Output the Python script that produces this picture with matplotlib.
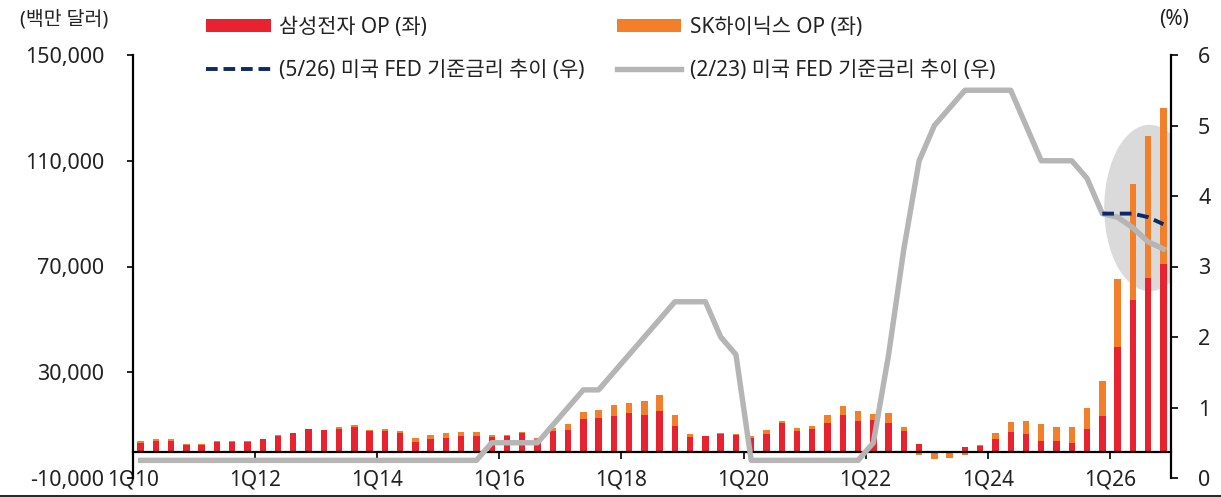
import matplotlib
matplotlib.use("Agg")
import matplotlib.pyplot as plt
import numpy as np
from matplotlib.patches import Ellipse
from matplotlib.lines import Line2D
from matplotlib.patches import Patch

plt.rcParams['font.family'] = ['Noto Sans', 'Noto Sans CJK KR', 'DejaVu Sans']

# ---- data ----
years = list(range(2010, 2027))
quarters = [f"{q}Q{str(y)[2:]}" for y in years for q in range(1, 5)]

samsung_op = [3400, 4000, 4000, 2600, 2600, 3500, 3800, 3650, 4650, 5900, 6900, 8400,
              8050, 8400, 9400, 7900, 7800, 6900, 3800, 4650, 5300, 6000, 6000, 5400,
              5700, 6900, 4400, 7800, 8200, 12300, 12700, 13600, 14600, 13700, 15500, 9600,
              5500, 5700, 6700, 6200, 5300, 6500, 10700, 7900, 8400, 10900, 13700, 11400,
              11900, 10900, 7900, 2900, 400, 400, 1600, 2200, 4800, 7500, 6500, 4150,
              4150, 3100, 8600, 13600, 39400, 57500, 65800, 70800]
hynix_op = [500, 650, 650, 400, 400, 400, 100, 250, 150, 300, 100, 300,
            250, 800, 700, 400, 750, 900, 1200, 1550, 1600, 1300, 1300, 800,
            400, 400, 600, 1000, 2200, 2500, 3100, 4000, 3900, 5300, 6000, 4100,
            1000, 200, 200, 300, 600, 1800, 700, 900, 1300, 2800, 3500, 3900,
            2200, 3600, 1300, -1400, -2800, -2300, -1400, 200, 2100, 3800, 5200, 6250,
            5250, 6300, 8000, 13200, 26000, 43800, 53400, 59000]
fed_feb23 = [0.25] * 23 + [0.5, 0.5, 0.5, 0.5, 0.75, 1.0, 1.25, 1.25, 1.5, 1.75, 2.0, 2.25, 2.5,
             2.5, 2.5, 2.0, 1.75] + [0.25] * 8 + \
            [0.5, 1.75, 3.25, 4.5, 5.0, 5.25, 5.5, 5.5, 5.5, 5.5, 5.0, 4.5, 4.5, 4.5, 4.25, 3.75,
             3.7, 3.55, 3.35, 3.25]
fed_may26_quarters = ["4Q25", "1Q26", "2Q26", "3Q26", "4Q26"]
fed_may26 = [3.75, 3.75, 3.75, 3.7, 3.6]

xtick_labels = [f"1Q{str(y)[2:]}" for y in range(2010, 2027, 2)]
left_ticks = [-10000, 30000, 70000, 110000, 150000]
right_ticks = [0, 1, 2, 3, 4, 5, 6]

RED = '#E8222E'
ORANGE = '#F47F2B'
GRAY = '#B5B5B5'
NAVY = '#0C2A66'
TXT = '#222222'

W, H = 1221, 497
fig = plt.figure(figsize=(W / 100, H / 100), dpi=100)
ax = fig.add_axes([133 / W, 1 - 478 / H, (1171 - 133) / W, (478 - 55) / H])
ax2 = ax.twinx()

n = len(quarters)
x = np.arange(n) + 0.5
s = np.array(samsung_op, dtype=float)
h = np.array(hynix_op, dtype=float)
bottom_h = np.where(h >= 0, s, 0)

ax.set_xlim(0, n)
ax.set_ylim(-10000, 150000)
ax2.set_ylim(0, 6)

# highlight ellipse
ell = Ellipse((66.6, 3.83), 5.95, 2.36, transform=ax2.transData,
              facecolor='#DADADA', edgecolor='none', zorder=0)
ax.add_patch(ell)

ax.bar(x, s, width=0.42, color=RED, zorder=2)
ax.bar(x, h, width=0.42, bottom=bottom_h, color=ORANGE, zorder=2)

xi = {q: i for i, q in enumerate(quarters)}
xm = np.array([xi[q] for q in fed_may26_quarters]) + 0.5
ax2.plot(x, fed_feb23, color=GRAY, lw=3.9, solid_joinstyle='round', zorder=3)
ax2.plot(xm, fed_may26, color=NAVY, lw=2.8, dashes=(3.0, 1.5), zorder=4)

# spines
for sp in ['top', 'right']:
    ax.spines[sp].set_visible(False)
ax.spines['bottom'].set_position(('data', 0))
for sp in ['top', 'left', 'bottom']:
    ax2.spines[sp].set_visible(False)
for a, sp in [(ax, 'left'), (ax, 'bottom'), (ax2, 'right')]:
    a.spines[sp].set_linewidth(1.6)
    a.spines[sp].set_color('black')

ax.set_xticks(np.arange(0, n + 1, 8))
ax.set_xticklabels(xtick_labels)
ax.tick_params(axis='x', direction='out', length=5, width=1.4, pad=8, labelsize=15, colors=TXT)
ax.set_yticks(left_ticks)
ax.set_yticklabels([f"{v:,}" for v in left_ticks])
ax.tick_params(axis='y', direction='out', length=4.5, width=1.4, pad=16, labelsize=15.5, colors=TXT)
ax2.set_yticks(right_ticks)
ax2.set_yticklabels([str(v) for v in right_ticks])
ax2.tick_params(axis='y', direction='out', length=5, width=1.4, pad=14.5, labelsize=15.5, colors=TXT)
for a in (ax, ax2):
    for lab in a.get_xticklabels() + a.get_yticklabels():
        lab.set_color(TXT)

fig.text(64 / W, 1 - 19 / H, "(백만 달러)", ha='center', va='center', fontsize=14, color=TXT)
fig.text(1174 / W, 1 - 20 / H, "(%)", ha='center', va='center', fontsize=15, color=TXT)

handles = [Patch(facecolor=RED, edgecolor='none'),
           Line2D([], [], color=NAVY, lw=2.8, dashes=(3.0, 1.5)),
           Patch(facecolor=ORANGE, edgecolor='none'),
           Line2D([], [], color=GRAY, lw=3.9)]
labels = ["삼성전자 OP (좌)", "(5/26) 미국 FED 기준금리 추이 (우)",
          "SK하이닉스 OP (좌)", "(2/23) 미국 FED 기준금리 추이 (우)"]
fig.legend(handles, labels, ncol=2, loc='upper left', bbox_to_anchor=(206 / W, 1 - 17 / H),
           frameon=False, fontsize=15, handlelength=3.1, handleheight=0.6, handletextpad=0.4,
           columnspacing=1.55, labelspacing=1.05, borderpad=0, borderaxespad=0,
           labelcolor=TXT)

fig.add_artist(Line2D([0, 1], [1.5 / H, 1.5 / H], color='black', lw=1.2, transform=fig.transFigure))

fig.savefig("out.png", dpi=100)
